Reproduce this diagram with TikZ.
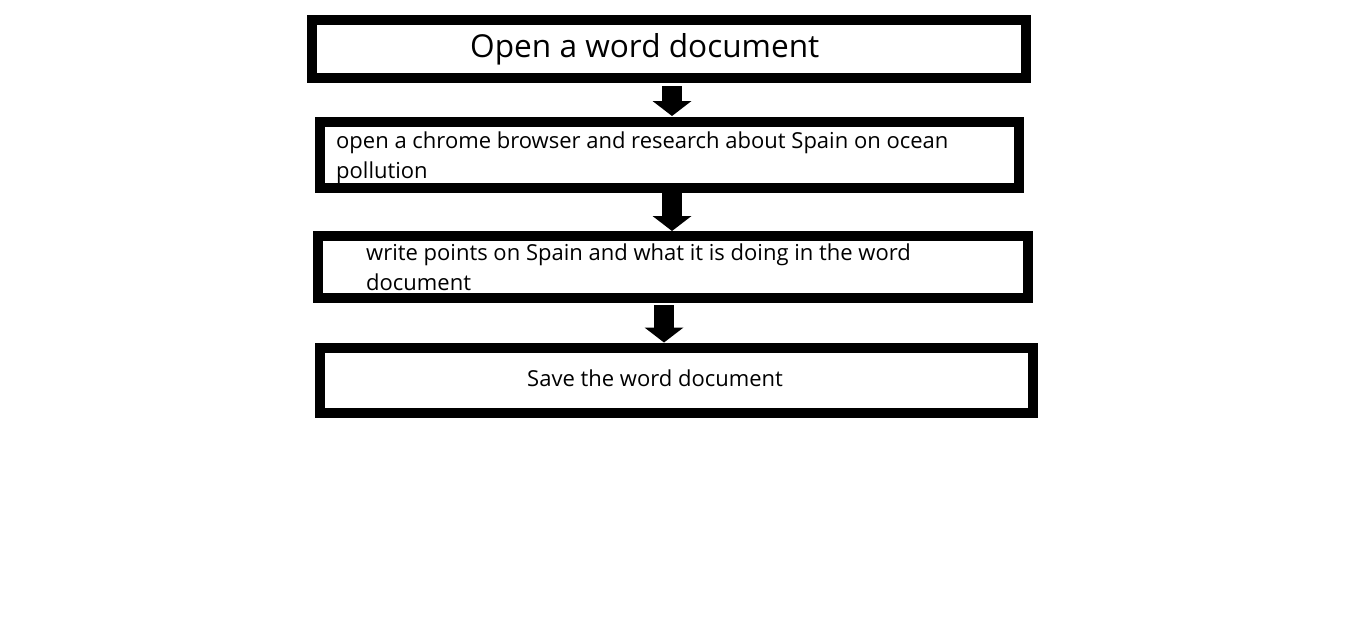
\documentclass[tikz,border=0pt]{standalone}
\usepackage{fontspec}
\setmainfont{Open Sans}
\usetikzlibrary{arrows.meta}
\begin{document}
\begin{tikzpicture}[x=1pt,y=-1pt,
  stepbox/.style={draw=black, line width=10pt, rectangle, inner sep=0pt, fill=white},
  flowarrow/.style={line width=20pt, -{Triangle[width=39pt,length=15pt,line width=0pt]}},
  bigtext/.style={font=\fontsize{31.6}{38}\selectfont, inner sep=0pt, anchor=base west},
  smalltext/.style={font=\fontsize{22}{30}\selectfont, inner sep=0pt, anchor=base west, align=left}]
\useasboundingbox[fill=white] (0,0) rectangle (1350,629);
\node[stepbox, minimum width=714pt, minimum height=58pt] (b1) at (669,49) {};
\node[stepbox, minimum width=699pt, minimum height=66pt] (b2) at (669.5,155) {};
\node[stepbox, minimum width=710pt, minimum height=62pt] (b3) at (673,267) {};
\node[stepbox, minimum width=713pt, minimum height=65pt] (b4) at (676.5,380.5) {};
\draw[flowarrow] ([xshift=3pt,yshift=-3pt]b1.south) -- ([xshift=2.5pt,yshift=1pt]b2.north);
\draw[flowarrow] ([xshift=2.5pt]b2.south) -- ([xshift=-1pt]b3.north);
\draw[flowarrow] ([xshift=-9pt,yshift=-2pt]b3.south) -- ([xshift=-12.5pt,yshift=0.5pt]b4.north);
\node[bigtext] (t1) at (470,57) {Open a word document};
\node[smalltext] (t2) at (336,178.5) {open a chrome browser and research about Spain on ocean\\pollution};
\node[smalltext] (t3) at (366,290) {write points on Spain and what it is doing in the word\\document};
\node[smalltext] (t4) at (527,386) {Save the word document};
\end{tikzpicture}
\end{document}
